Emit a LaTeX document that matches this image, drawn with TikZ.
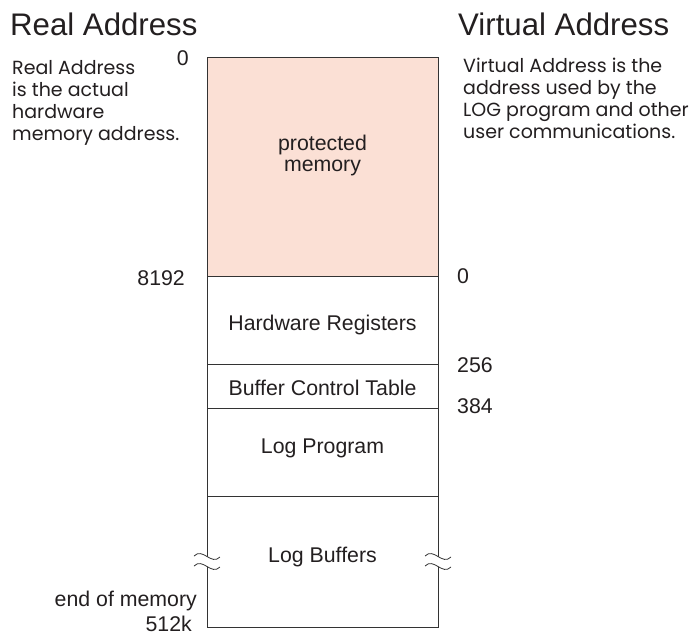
\documentclass[tikz,border=0pt]{standalone}
\usepackage{fontspec}
\setmainfont{Liberation Sans}
\newfontfamily\descfont{Poppins}
\definecolor{pm}{HTML}{FBE0D5}
\definecolor{ln}{HTML}{333333}
\definecolor{tx}{HTML}{231F20}
\begin{document}
\begin{tikzpicture}[x=1pt,y=-1pt,
  region/.style={draw=ln, line width=1.1pt, minimum width=231pt, inner sep=0pt, anchor=north west},
  lbl/.style={text=tx, font=\fontsize{21.3}{21}\selectfont, inner sep=0pt, anchor=base},
  lnum/.style={lbl, anchor=base east},
  rnum/.style={lbl, anchor=base west},
  head/.style={text=tx, font=\fontsize{31.2}{32}\selectfont, inner sep=0pt, anchor=base west},
  desc/.style={text=tx, font=\descfont\fontsize{19}{21.7}\selectfont, inner sep=0pt, anchor=base west, align=left},
  brk/.style={draw=ln, line width=0.8pt}
]
\useasboundingbox (0,0) rectangle (700,634);
\fill[white] (0,0) rectangle (700,634);

% regions
\node[region, fill=pm, minimum height=219pt] (prot) at (207,57) {};
\node[region, minimum height=88pt] (hw) at (207,276) {};
\node[region, minimum height=44pt] (bct) at (207,364) {};
\node[region, minimum height=88pt] (lp) at (207,408) {};
\node[region, minimum height=131pt] (lb) at (207,496) {};

% region labels
\node[lbl, align=center] (tprot) at (322.5,171) {protected\\memory};
\node[lbl] (thw) at (322.5,330) {Hardware Registers};
\node[lbl] (tbct) at (322.5,395) {Buffer Control Table};
\node[lbl] (tlp) at (322.5,453) {Log Program};
\node[lbl] (tlb) at (322.5,562) {Log Buffers};

% break marks
\foreach \xx/\nm in {207/l,438/r} {
  \fill[white] (\xx-13,556) .. controls (\xx-4,547) and (\xx+4,566) .. (\xx+13,557)
     -- (\xx+13,567) .. controls (\xx+4,576) and (\xx-4,557) .. (\xx-13,566) -- cycle;
  \draw[brk] (\xx-13,556) .. controls (\xx-4,547) and (\xx+4,566) .. (\xx+13,557);
  \draw[brk] (\xx-13,566) .. controls (\xx-4,557) and (\xx+4,576) .. (\xx+13,567);
}

% headings
\node[head] (hreal) at (10,35) {Real Address};
\node[head] (hvirt) at (458,35) {Virtual Address};

% descriptions
\node[desc] (dreal) at (12,140) {Real Address\\is the actual\\hardware\\memory address.};
\node[desc] (dvirt) at (463,138) {Virtual Address is the\\address used by the\\LOG program and other\\user communications.};

% real addresses
\node[lnum] (r0) at (189,65) {0};
\node[lnum] (r8192) at (185,285) {8192};
\node[lnum] (rend) at (197,606) {end of memory};
\node[lnum] (r512) at (192,631) {512k};

% virtual addresses
\node[rnum] (v0) at (457,283) {0};
\node[rnum] (v256) at (457,372) {256};
\node[rnum] (v384) at (457,413) {384};
\end{tikzpicture}
\end{document}
